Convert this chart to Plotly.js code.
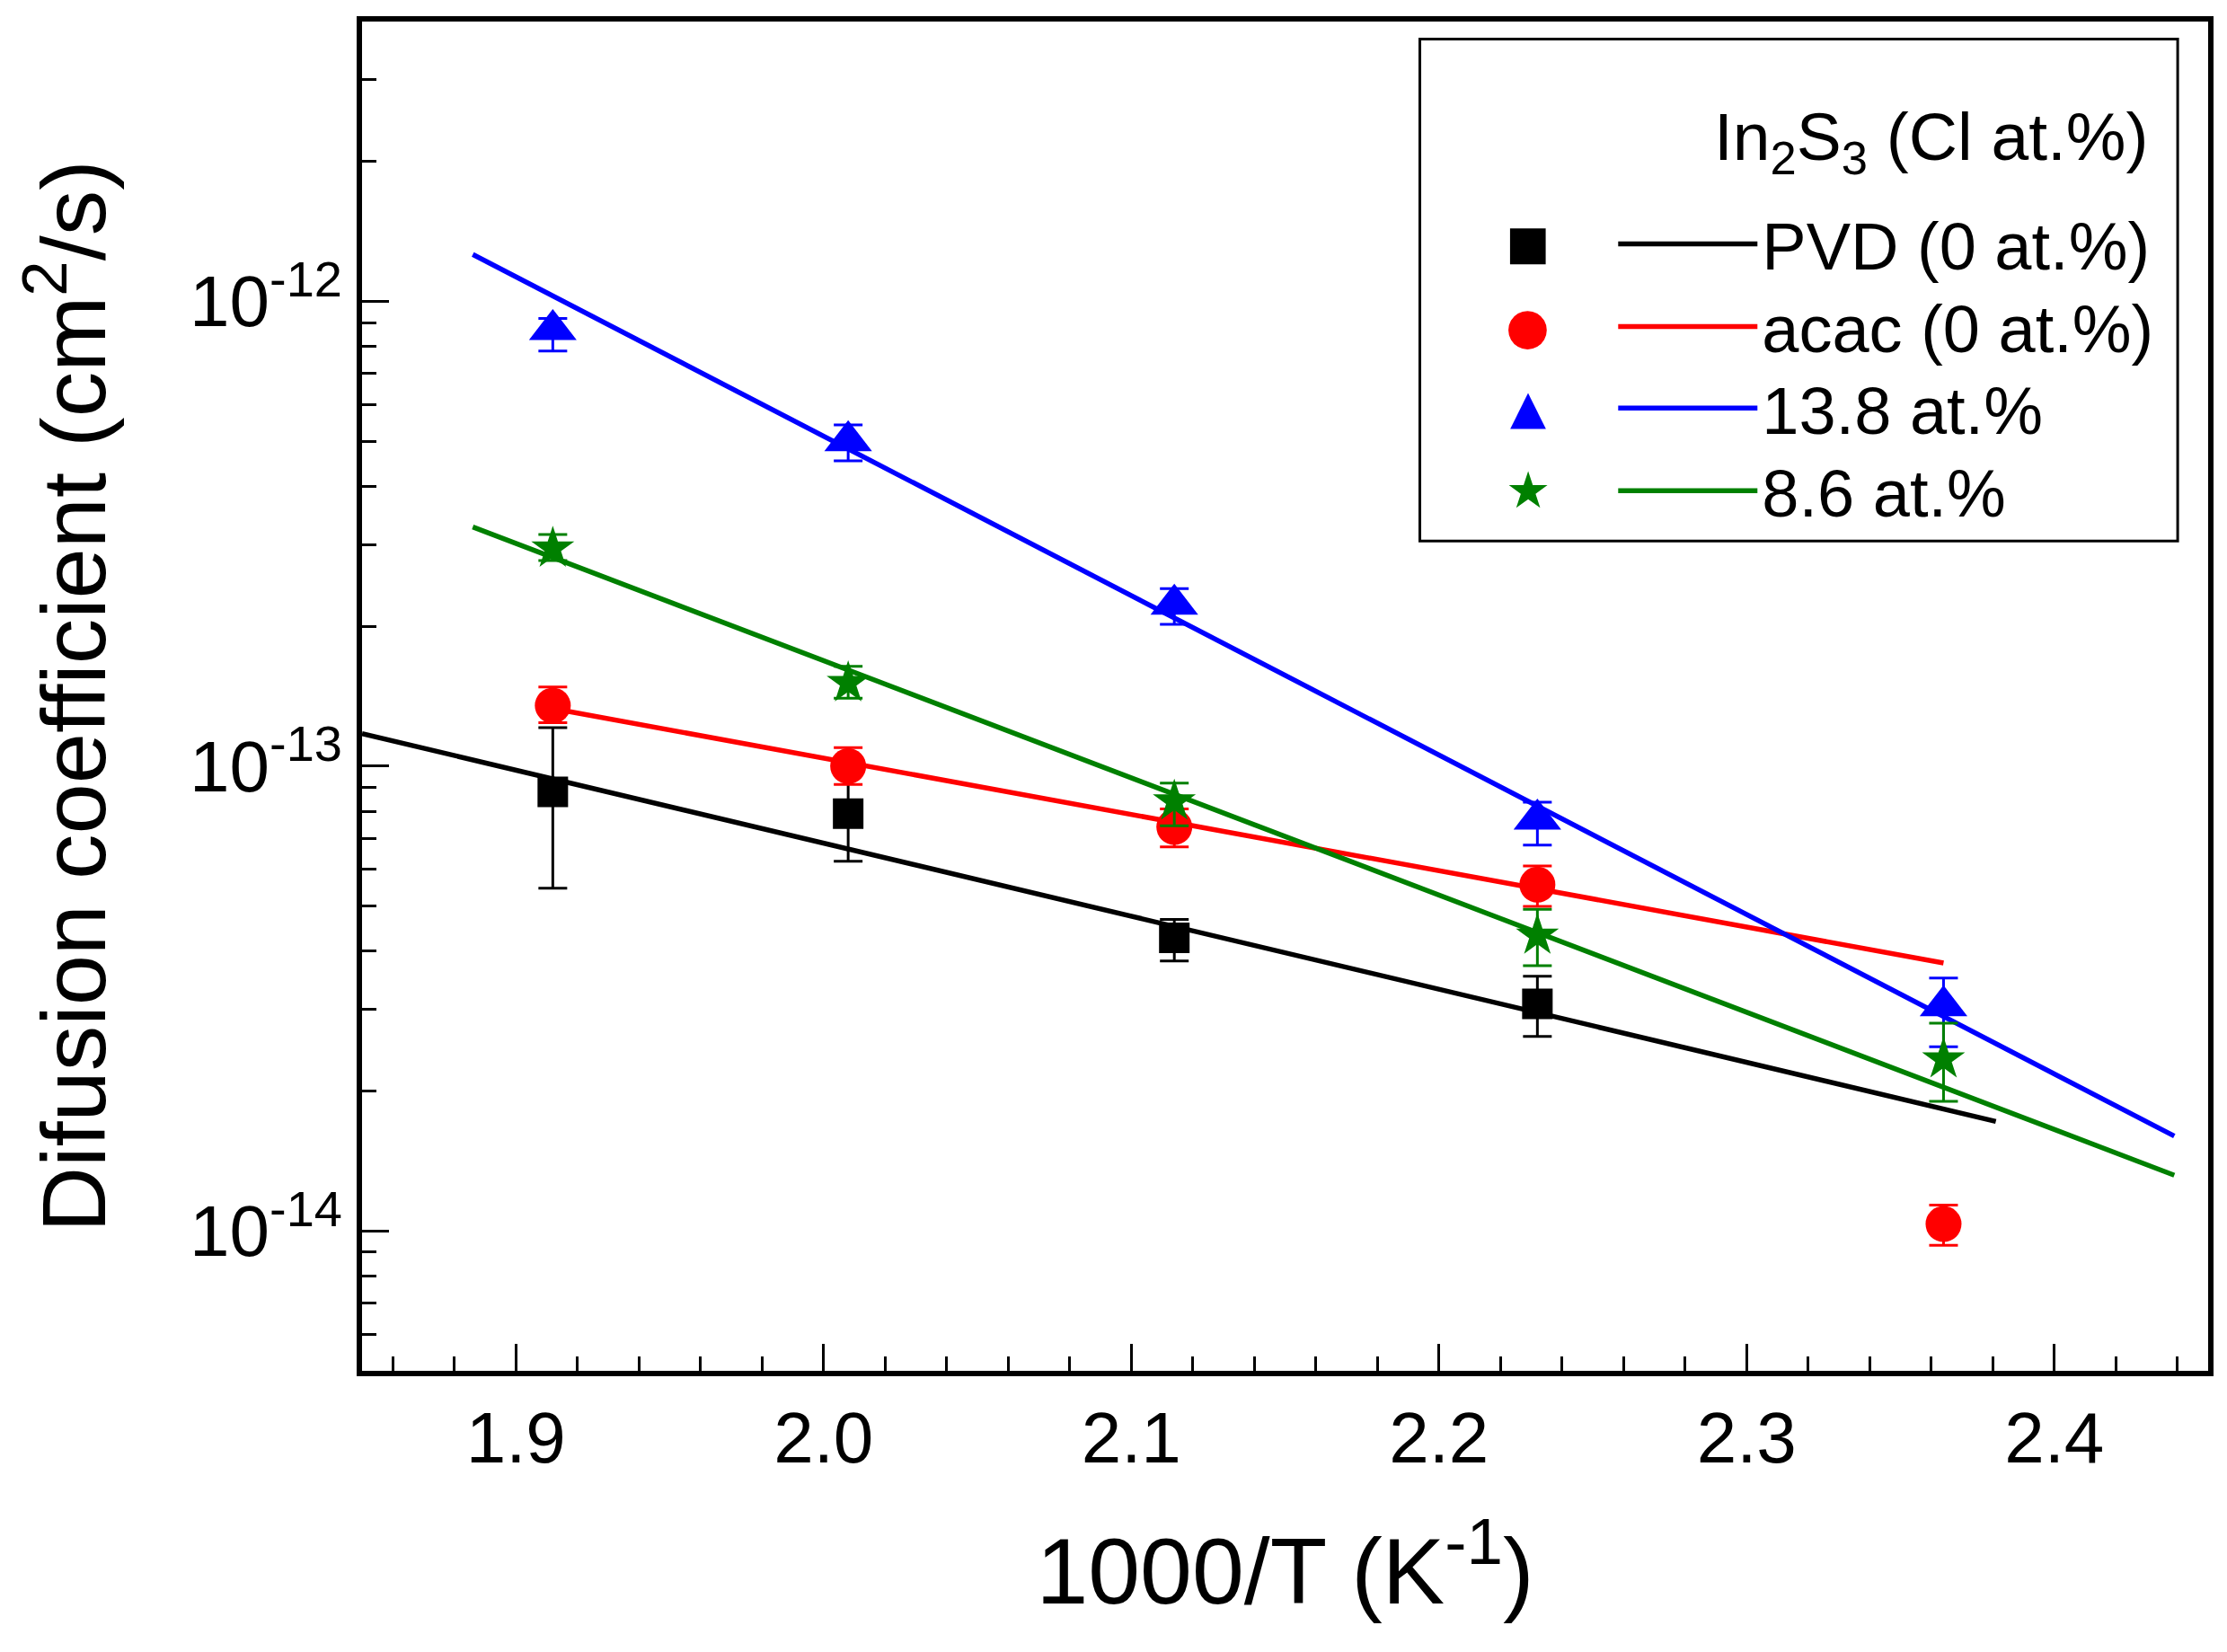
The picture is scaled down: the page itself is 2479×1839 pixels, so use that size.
<!DOCTYPE html>
<html>
<head>
<meta charset="utf-8">
<script src="https://cdn.plot.ly/plotly-3.0.1.min.js"></script>
<style>
  body { margin: 0; background: #fff; }
  #chart { width: 2479px; height: 1839px; }
</style>
</head>
<body>
<div id="chart"></div>
<script>
// 1000/T of the five anneal temperatures (K^-1)
var invT = [1.912, 2.008, 2.114, 2.232, 2.364];
var invTPvd = [1.912, 2.008, 2.114, 2.232];

// diffusion coefficients (cm2/s) with error bar ends
var pvdD = [8.8e-14, 7.9e-14, 4.27e-14, 3.08e-14];
var pvdHi = [1.21e-13, 9.6e-14, 4.68e-14, 3.53e-14];
var pvdLo = [5.46e-14, 6.24e-14, 3.81e-14, 2.62e-14];

var acacD = [1.35e-13, 1.0e-13, 7.4e-14, 5.56e-14, 1.035e-14];
var acacHi = [1.48e-13, 1.096e-13, 8.09e-14, 6.10e-14, 1.137e-14];
var acacLo = [1.24e-13, 9.13e-14, 6.7e-14, 4.99e-14, 9.31e-15];

var cl138D = [8.69e-13, 5.01e-13, 2.23e-13, 7.69e-14, 3.05e-14];
var cl138Hi = [9.19e-13, 5.42e-13, 2.41e-13, 8.36e-14, 3.50e-14];
var cl138Lo = [7.82e-13, 4.54e-13, 2.02e-13, 6.76e-14, 2.49e-14];

var cl86D = [2.94e-13, 1.51e-13, 8.4e-14, 4.32e-14, 2.34e-14];
var cl86Hi = [3.15e-13, 1.64e-13, 9.19e-14, 4.92e-14, 2.80e-14];
var cl86Lo = [2.77e-13, 1.40e-13, 7.44e-14, 3.72e-14, 1.90e-14];

// Arrhenius fit lines (end points)
var pvdFitX = [1.85, 2.381];
var pvdFitY = [1.175e-13, 1.72e-14];
var acacFitX = [1.912, 2.364];
var acacFitY = [1.33e-13, 3.77e-14];
var cl138FitX = [1.886, 2.439];
var cl138FitY = [1.262e-12, 1.60e-14];
var cl86FitX = [1.886, 2.439];
var cl86FitY = [3.27e-13, 1.318e-14];

var seriesNames = ['PVD (0 at.%)', 'acac (0 at.%)', '13.8 at.%', '8.6 at.%'];
var seriesColors = ['#000000', '#ff0000', '#0000ff', '#008000'];
var seriesSymbols = ['square', 'circle', 'triangle-up', 'star'];
var seriesGlyphs = ['\u25A0', '\u25CF', '\u25B2', '\u2605'];

var yTickVals = [1e-14, 1e-13, 1e-12];
var yTickText = ['10<sup>-14</sup>', '10<sup>-13</sup>', '10<sup>-12</sup>'];

var FONT = 'Liberation Sans, Arial, Helvetica, sans-serif';
var legendIds = ['legend', 'legend2', 'legend3', 'legend4'];
// paper y of each legend row
var rowY = [0.8349, 0.7737, 0.7132, 0.6520];

function errPlus(v, hi) { return v.map((d, i) => hi[i] - d); }
function errMinus(v, lo) { return v.map((d, i) => d - lo[i]); }

function fitTrace(x, y, k) {
  return {
    x: x, y: y, mode: 'lines', type: 'scatter',
    name: seriesNames[k], legend: legendIds[k],
    line: {color: seriesColors[k], width: 5.5},
    hoverinfo: 'skip'
  };
}

function pointTrace(x, y, hi, lo, k, size) {
  return {
    x: x, y: y, mode: 'markers', type: 'scatter',
    name: seriesNames[k], showlegend: false,
    marker: {color: seriesColors[k], symbol: seriesSymbols[k], size: size},
    error_y: {
      type: 'data', symmetric: false,
      array: errPlus(y, hi), arrayminus: errMinus(y, lo),
      color: seriesColors[k], thickness: 3, width: 16
    }
  };
}

var data = [
  fitTrace(pvdFitX, pvdFitY, 0),
  fitTrace(acacFitX, acacFitY, 1),
  fitTrace(cl138FitX, cl138FitY, 2),
  fitTrace(cl86FitX, cl86FitY, 3),
  pointTrace(invTPvd, pvdD, pvdHi, pvdLo, 0, 34),
  pointTrace(invT, acacD, acacHi, acacLo, 1, 40),
  pointTrace(invT, cl138D, cl138Hi, cl138Lo, 2, 46),
  pointTrace(invT, cl86D, cl86Hi, cl86Lo, 3, 36)
];

// legend key glyphs for the point symbols, one per legend row
var glyphSize = [52, 56, 52, 56];
var keyAnnotations = seriesGlyphs.map((g, k) => ({
  xref: 'paper', yref: 'paper', x: 0.6316, y: rowY[k] + 0.001,
  xanchor: 'center', yanchor: 'middle', showarrow: false,
  text: g, font: {family: 'DejaVu Sans', size: glyphSize[k], color: seriesColors[k]}
}));

var layout = {
  width: 2479, height: 1839,
  margin: {l: 403, r: 21, t: 24, b: 313},
  paper_bgcolor: '#fff', plot_bgcolor: '#fff',
  font: {family: FONT, color: '#000', size: 80},
  showlegend: true,
  xaxis: {
    range: [1.85, 2.45], tick0: 1.9, dtick: 0.1, tickformat: '.1f',
    ticks: 'inside', ticklen: 30, tickwidth: 3, tickcolor: '#000',
    minor: {dtick: 0.02, ticks: 'inside', ticklen: 16, tickwidth: 3, tickcolor: '#000'},
    showline: true, linewidth: 6, linecolor: '#000', mirror: true,
    showgrid: false, zeroline: false,
    tickfont: {size: 80},
    title: {text: '1000/T (K<sup>-1</sup>)', font: {size: 104}, standoff: 70}
  },
  yaxis: {
    type: 'log', range: [Math.log10(5e-15), Math.log10(4e-12)],
    tickmode: 'array', tickvals: yTickVals, ticktext: yTickText,
    ticks: 'inside', ticklen: 30, tickwidth: 3, tickcolor: '#000',
    minor: {dtick: 'D1', ticks: 'inside', ticklen: 16, tickwidth: 3, tickcolor: '#000'},
    showline: true, linewidth: 6, linecolor: '#000', mirror: true,
    showgrid: false, zeroline: false,
    tickfont: {size: 80},
    title: {text: 'Difusion coefficient (cm<sup>2</sup>/s)', font: {size: 101}, standoff: 62}
  },
  shapes: [{
    type: 'rect', xref: 'paper', yref: 'paper',
    x0: 0.573, x1: 0.9835, y0: 0.615, y1: 0.987,
    line: {color: '#000', width: 3}, fillcolor: 'rgba(0,0,0,0)'
  }],
  annotations: [{
    xref: 'paper', yref: 'paper', x: 0.969, y: 0.911,
    xanchor: 'right', yanchor: 'middle', showarrow: false,
    text: 'In<sub>2</sub>S<sub>3</sub> (Cl at.%)', font: {family: FONT, size: 75, color: '#000'}
  }].concat(keyAnnotations)
};

// one legend per row so the row pitch can follow the reference
legendIds.forEach((id, k) => {
  layout[id] = {
    x: 0.678, xanchor: 'left', y: rowY[k], yanchor: 'middle',
    bgcolor: 'rgba(0,0,0,0)', borderwidth: 0,
    font: {family: FONT, size: 74, color: '#000'},
    itemwidth: 155, itemclick: false
  };
});

Plotly.newPlot('chart', data, layout, {staticPlot: true});
</script>
</body>
</html>
